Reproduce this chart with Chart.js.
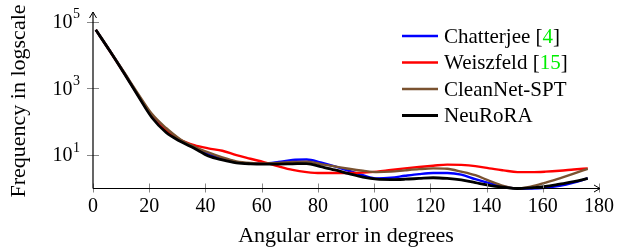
<!DOCTYPE html>
<html>
<head>
<meta charset="utf-8">
<script src="https://cdn.jsdelivr.net/npm/chart.js@4/dist/chart.umd.min.js"></script>
<style>
  html, body { margin: 0; padding: 0; background: #fff; }
  #wrap { width: 624px; height: 247px; position: relative; }
</style>
</head>
<body>
<div id="wrap"><canvas id="c" width="624" height="247"></canvas></div>
<script>
// ---- data ----
const angles = [1,6,11,16,21,26,31,36,41,46,51,56,61,66,71,76,81,86,91,96,101,106,111,116,121,126,131,136,141,146,151,156,161,166,171,176];
const chatterjee = [57000,13300,3000,640,145,55,27,17,11,8,6.2,5.6,5.6,6.2,7.2,7.4,6.0,4.6,3.4,2.5,2.0,2.1,2.4,2.7,2.9,2.9,2.6,1.9,1.45,1.15,1.0,1.0,1.05,1.2,1.5,2.0];
const weiszfeld  = [57000,13200,2950,630,140,55,29,20,16,13.5,10,7.8,6.1,4.6,3.6,3.1,2.9,2.9,2.9,3.0,3.2,3.6,4.0,4.4,4.8,5.2,5.1,4.7,4.0,3.5,3.1,3.1,3.2,3.4,3.7,4.0];
const cleannet   = [57000,13500,3100,700,170,65,30,18,12,8.5,6.5,5.8,5.6,5.8,6.2,6.4,5.4,4.6,3.9,3.4,3.1,3.2,3.5,3.8,4.0,3.9,3.2,2.5,1.7,1.2,1.0,1.15,1.5,2.0,2.8,3.9];
const neurora    = [57000,13200,2900,600,132,48,26,16,9.5,7.2,5.9,5.5,5.4,5.4,5.5,5.6,4.5,3.6,2.8,2.2,1.9,1.85,1.9,2.0,2.1,2.0,1.8,1.5,1.25,1.1,1.0,1.05,1.15,1.35,1.6,2.0];
const seriesNames = ["Chatterjee [4]", "Weiszfeld [15]", "CleanNet-SPT", "NeuRoRA"];
const xTicks = [0,20,40,60,80,100,120,140,160,180];
const yTickExponents = [1,3,5];
const xTitle = "Angular error in degrees";
const yTitle = "Frequency in logscale";

const colors = ["#0000ff", "#ff0000", "#7a5230", "#000000"];
const widths = [2.4, 2.4, 2.4, 2.8];
const seriesValues = [chatterjee, weiszfeld, cleannet, neurora];

const SERIF = "'Liberation Serif', 'DejaVu Serif', serif";

const datasets = seriesValues.map((vals, i) => ({
  label: seriesNames[i],
  data: angles.map((a, k) => ({ x: a, y: vals[k] })),
  borderColor: colors[i],
  backgroundColor: colors[i],
  borderWidth: widths[i],
  pointRadius: 0,
  cubicInterpolationMode: 'monotone',
  fill: false,
  clip: false,
  order: 4 - i
}));

const axesPlugin = {
  id: 'axesPlugin',
  afterDatasetsDraw(chart) {
    const ctx = chart.ctx;
    const xs = chart.scales.x, ys = chart.scales.y;
    const ca = chart.chartArea;
    const x0 = ca.left, y0 = ca.bottom;
    ctx.save();
    // ticks (gray, centered on axis)
    ctx.strokeStyle = '#888';
    ctx.lineWidth = 1;
    xTicks.forEach(v => {
      const px = Math.round(xs.getPixelForValue(v)) + 0.5;
      ctx.beginPath(); ctx.moveTo(px, y0 - 5); ctx.lineTo(px, y0 + 4); ctx.stroke();
    });
    yTickExponents.forEach(e => {
      const py = Math.round(ys.getPixelForValue(Math.pow(10, e))) + 0.5;
      ctx.beginPath(); ctx.moveTo(x0 - 6, py); ctx.lineTo(x0 + 6, py); ctx.stroke();
    });
    // axis lines
    ctx.strokeStyle = '#000';
    ctx.lineWidth = 1.2;
    ctx.beginPath();
    ctx.moveTo(x0, y0); ctx.lineTo(ca.right + 1, y0);
    ctx.moveTo(x0, y0); ctx.lineTo(x0, ca.top - 3);
    ctx.stroke();
    // arrowheads
    ctx.lineWidth = 1;
    ctx.beginPath();
    ctx.moveTo(ca.right - 5, y0 - 3.5); ctx.lineTo(ca.right + 1, y0); ctx.lineTo(ca.right - 5, y0 + 3.5);
    ctx.moveTo(x0 - 3.5, ca.top + 3); ctx.lineTo(x0, ca.top - 3); ctx.lineTo(x0 + 3.5, ca.top + 3);
    ctx.stroke();

    // y tick labels 10^e
    ctx.fillStyle = '#000';
    ctx.textBaseline = 'middle';
    yTickExponents.forEach(e => {
      const py = ys.getPixelForValue(Math.pow(10, e));
      ctx.font = "14px " + SERIF;
      const ew = ctx.measureText(String(e)).width;
      ctx.textAlign = 'left';
      const right = x0 - 13;
      ctx.fillText(String(e), right - ew, py - 7);
      ctx.font = "20px " + SERIF;
      ctx.textAlign = 'right';
      ctx.fillText("10", right - ew - 0.5, py + 1);
    });

    // axis titles
    ctx.font = "22px " + SERIF;
    ctx.textAlign = 'center';
    ctx.textBaseline = 'middle';
    ctx.fillText(xTitle, (ca.left + ca.right) / 2, 236);
    ctx.save();
    ctx.translate(19, 101);
    ctx.rotate(-Math.PI / 2);
    ctx.fillText(yTitle, 0, 0);
    ctx.restore();

    // legend
    const lx0 = 402, lx1 = 438, tx = 444;
    const ly = [36, 62.5, 89, 115.5];
    chart.data.datasets.forEach((ds, i) => {
      const y = ly[i];
      ctx.strokeStyle = ds.borderColor;
      ctx.lineWidth = ds.borderWidth;
      ctx.beginPath(); ctx.moveTo(lx0, y); ctx.lineTo(lx1, y); ctx.stroke();
      ctx.font = "21px " + SERIF;
      ctx.textAlign = 'left';
      ctx.textBaseline = 'middle';
      const m = ds.label.match(/^(.*\[)(\d+)(\])$/);
      let x = tx;
      if (m) {
        ctx.fillStyle = '#000'; ctx.fillText(m[1], x, y + 1); x += ctx.measureText(m[1]).width;
        ctx.fillStyle = '#00ee00'; ctx.fillText(m[2], x, y + 1); x += ctx.measureText(m[2]).width;
        ctx.fillStyle = '#000'; ctx.fillText(m[3], x, y + 1);
      } else {
        ctx.fillStyle = '#000'; ctx.fillText(ds.label, x, y + 1);
      }
    });
    ctx.restore();
  }
};

new Chart(document.getElementById('c'), {
  type: 'line',
  data: { datasets },
  options: {
    responsive: false,
    animation: false,
    events: [],
    layout: { padding: { left: 0, right: 25, top: 15, bottom: 0 } },
    plugins: { legend: { display: false }, tooltip: { enabled: false } },
    scales: {
      x: {
        type: 'linear', min: 0, max: 180,
        grid: { display: false, drawTicks: false },
        border: { display: false },
        afterBuildTicks: s => { s.ticks = xTicks.map(v => ({ value: v })); },
        afterFit: s => { s.height = 247 - 188.5; },
        ticks: { color: '#000', font: { family: SERIF, size: 20 }, padding: 6, maxRotation: 0, autoSkip: false,
                 callback: v => String(v) }
      },
      y: {
        type: 'logarithmic', min: 1, max: Math.pow(10, 5.2),
        grid: { display: false, drawTicks: false },
        border: { display: false },
        afterBuildTicks: s => { s.ticks = yTickExponents.map(e => ({ value: Math.pow(10, e) })); },
        afterFit: s => { s.width = 93; },
        ticks: { display: false }
      }
    }
  },
  plugins: [axesPlugin]
});
</script>
</body>
</html>
